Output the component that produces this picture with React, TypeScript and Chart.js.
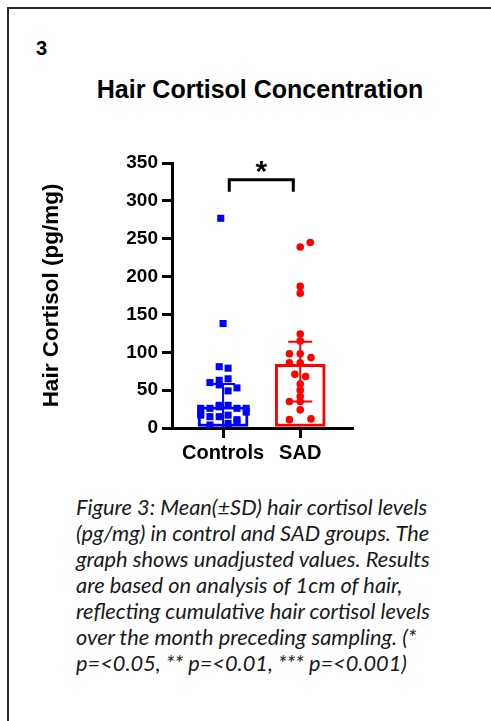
import React, { useEffect, useRef } from 'react';
import { Chart, registerables } from 'chart.js';

Chart.register(...registerables);

// ---- Data ----
const categories = ['Controls', 'SAD'];
const categoryX = [1, 2];
const meanValues = [28, 84];
const sdHigh = [58, 114];
const sdLow = [0, 35];
const groupColors = ['#0000ff', '#ff0000'];

const controlsValues = [277, 138, 81, 79, 65, 63, 60, 57, 53, 49, 30, 26, 26, 28, 30, 26, 26, 17, 15, 15, 17, 11, 8, 6, 4, 20, 21];
const controlsJitter = [-0.03, 0, -0.05, 0.065, 0.065, -0.05, -0.17, -0.05, 0.18, 0.065, -0.05, -0.29, -0.17, -0.05, 0.065, 0.18, 0.3, -0.29, -0.17, -0.05, 0.065, 0.18, 0.18, 0.065, -0.17, -0.29, 0.3];

const sadValues = [245, 239, 187, 178, 124, 115, 98, 98, 93, 86, 86, 71, 68, 58, 50, 42, 35, 35, 24, 11, 12];
const sadJitter = [0.13, 0, 0, 0, 0, 0, -0.14, 0, 0.14, -0.14, 0, -0.07, 0.07, 0, 0, 0, -0.14, 0, 0, -0.14, 0.14];

const yMin = 0;
const yMax = 350;
const yStep = 50;

const bracketX = [1.08, 1.91];
const bracketY = [312, 328];
const significanceLabel = '*';

const panelNumber = '3';
const chartTitle = 'Hair Cortisol Concentration';
const yAxisTitle = 'Hair Cortisol (pg/mg)';
const captionLines = [
  'Figure 3: Mean(±SD) hair cortisol levels',
  '(pg/mg) in control and SAD groups. The',
  'graph shows unadjusted values. Results',
  'are based on analysis of 1cm of hair,',
  'reflecting cumulative hair cortisol levels',
  'over the month preceding sampling. (*',
  'p=<0.05, ** p=<0.01, *** p=<0.001)',
];

const FONT = '"Liberation Sans", Arial, sans-serif';

export default function App() {
  const canvasRef = useRef<HTMLCanvasElement>(null);

  useEffect(() => {
    const canvas = canvasRef.current;
    if (!canvas) return;

    const errorBarPlugin = {
      id: 'errorBars',
      afterDatasetDraw(chart: any, args: any) {
        if (args.index !== 0) return;
        const { ctx } = chart;
        const xs = chart.scales.x;
        const ys = chart.scales.y;
        ctx.save();
        ctx.lineWidth = 2;
        categoryX.forEach((cx, i) => {
          const px = xs.getPixelForValue(cx);
          const yh = ys.getPixelForValue(sdHigh[i]);
          const yl = ys.getPixelForValue(sdLow[i]);
          ctx.strokeStyle = groupColors[i];
          ctx.beginPath();
          ctx.moveTo(px, yh);
          ctx.lineTo(px, yl);
          ctx.moveTo(px - 12, yh);
          ctx.lineTo(px + 12, yh);
          if (sdLow[i] > yMin) {
            ctx.moveTo(px - 12, yl);
            ctx.lineTo(px + 12, yl);
          }
          ctx.stroke();
        });
        ctx.restore();
      },
    };

    const bracketPlugin = {
      id: 'bracket',
      afterDraw(chart: any) {
        const { ctx } = chart;
        const xs = chart.scales.x;
        const ys = chart.scales.y;
        const x1 = xs.getPixelForValue(bracketX[0]);
        const x2 = xs.getPixelForValue(bracketX[1]);
        const yb = ys.getPixelForValue(bracketY[0]);
        const yt = ys.getPixelForValue(bracketY[1]);
        ctx.save();
        ctx.strokeStyle = '#000';
        ctx.lineWidth = 3;
        ctx.lineCap = 'butt';
        ctx.beginPath();
        ctx.moveTo(x1, yb);
        ctx.lineTo(x1, yt);
        ctx.lineTo(x2, yt);
        ctx.lineTo(x2, yb);
        ctx.stroke();
        ctx.fillStyle = '#000';
        ctx.font = `bold 30px ${FONT}`;
        ctx.textAlign = 'center';
        ctx.textBaseline = 'alphabetic';
        ctx.fillText(significanceLabel, (x1 + x2) / 2, yt + 1);
        ctx.restore();
      },
    };

    const chart = new Chart(canvas, {
      type: 'bar',
      data: {
        datasets: [
          {
            type: 'bar',
            data: categoryX.map((x, i) => ({ x, y: meanValues[i] })),
            backgroundColor: '#ffffff',
            borderColor: groupColors,
            borderWidth: 3,
            borderSkipped: false,
            barThickness: 50,
            order: 2,
          } as any,
          {
            type: 'scatter',
            data: controlsValues.map((v, i) => ({ x: categoryX[0] + controlsJitter[i], y: v })),
            backgroundColor: groupColors[0],
            borderColor: groupColors[0],
            pointStyle: 'rect',
            pointRadius: 5,
            borderWidth: 0,
            order: 1,
          } as any,
          {
            type: 'scatter',
            data: sadValues.map((v, i) => ({ x: categoryX[1] + sadJitter[i], y: v })),
            backgroundColor: groupColors[1],
            borderColor: groupColors[1],
            pointStyle: 'circle',
            pointRadius: 3.8,
            borderWidth: 0,
            order: 1,
          } as any,
        ],
      },
      options: {
        animation: false,
        responsive: false,
        maintainAspectRatio: false,
        events: [],
        layout: { padding: { left: 0, top: 33, right: 68, bottom: 0 } },
        plugins: {
          legend: { display: false },
          tooltip: { enabled: false },
          title: { display: false },
        },
        scales: {
          x: {
            type: 'linear',
            min: 0.338,
            max: 2.671,
            offset: false,
            z: 1,
            grid: {
              offset: false,
              drawOnChartArea: false,
              drawTicks: true,
              tickLength: 10,
              lineWidth: 3,
              color: '#000',
            },
            border: { display: true, width: 3, color: '#000' },
            afterBuildTicks: (scale: any) => {
              scale.ticks = categoryX.map((v) => ({ value: v }));
            },
            afterFit: (scale: any) => {
              scale.height = 52;
            },
            ticks: {
              autoSkip: false,
              maxRotation: 0,
              padding: 3,
              color: '#000',
              font: { family: FONT, size: 20, weight: 'bold' },
              callback: (value: any) => {
                const idx = categoryX.indexOf(Number(value));
                return idx >= 0 ? categories[idx] : '';
              },
            },
          },
          y: {
            type: 'linear',
            min: yMin,
            max: yMax,
            z: 1,
            grid: {
              drawOnChartArea: false,
              drawTicks: true,
              tickLength: 10,
              lineWidth: 3,
              color: '#000',
            },
            border: { display: true, width: 3, color: '#000' },
            afterFit: (scale: any) => {
              scale.width = 172;
            },
            ticks: {
              stepSize: yStep,
              padding: 4,
              color: '#000',
              font: { family: FONT, size: 19, weight: 'bold' },
            },
            title: {
              display: true,
              text: yAxisTitle,
              color: '#000',
              font: { family: FONT, size: 22.5, weight: 'bold' },
              padding: { top: 38, bottom: 0 },
            },
          },
        },
      },
      plugins: [errorBarPlugin, bracketPlugin],
    } as any);

    return () => chart.destroy();
  }, []);

  return (
    <div style={{ position: 'absolute', left: 0, top: 0, width: 491, height: 721, overflow: 'hidden', background: '#fff' }}>
      <style>{'body{margin:0;overflow:hidden;background:#fff}'}</style>
      <div
        style={{
          position: 'absolute',
          left: 7,
          top: 7,
          width: 500,
          height: 730,
          borderTop: '2px solid #2a2a2a',
          borderLeft: '2px solid #2a2a2a',
        }}
      />
      <div
        style={{
          position: 'absolute',
          left: 36,
          top: 36,
          fontFamily: FONT,
          fontWeight: 'bold',
          fontSize: 20,
          lineHeight: '24px',
          color: '#000',
        }}
      >
        {panelNumber}
      </div>
      <div
        style={{
          position: 'absolute',
          left: 60,
          width: 400,
          top: 74,
          textAlign: 'center',
          fontFamily: FONT,
          fontWeight: 'bold',
          fontSize: 25,
          lineHeight: '30px',
          color: '#000',
          whiteSpace: 'nowrap',
        }}
      >
        {chartTitle}
      </div>
      <canvas
        ref={canvasRef}
        width={420}
        height={350}
        style={{ position: 'absolute', left: 0, top: 130, width: 420, height: 350 }}
      />
      <div
        style={{
          position: 'absolute',
          left: 76,
          top: 494,
          fontFamily: 'Lato, "Open Sans", sans-serif',
          fontStyle: 'italic',
          fontSize: 21.8,
          lineHeight: '26px',
          color: '#1a1a1a',
          whiteSpace: 'nowrap',
        }}
      >
        {captionLines.map((line, i) => (
          <div key={i}>{line}</div>
        ))}
      </div>
    </div>
  );
}
